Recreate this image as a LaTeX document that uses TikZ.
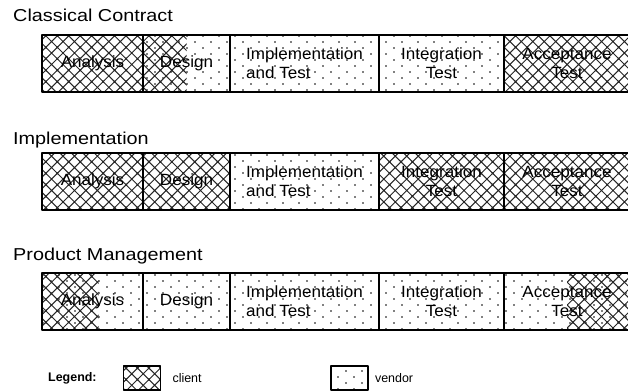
\documentclass[tikz,border=0pt]{standalone}
\usepackage{fontspec}
\setmainfont{Liberation Sans}
\newfontfamily\titlefont{Liberation Sans}[FakeStretch=1.15]
\newfontfamily\labelfont{Liberation Sans}[FakeStretch=1.05]
\usetikzlibrary{patterns,positioning,calc}

% 图案: 甲方 (交叉线) 与 乙方 (点)
\pgfdeclarepatternformonly{clientx}{\pgfqpoint{-1pt}{-1pt}}{\pgfqpoint{12.5pt}{12.5pt}}{\pgfqpoint{11.5pt}{11.5pt}}{
  \pgfsetlinewidth{1pt}
  \pgfpathmoveto{\pgfqpoint{-1pt}{-1pt}}\pgfpathlineto{\pgfqpoint{12.5pt}{12.5pt}}
  \pgfpathmoveto{\pgfqpoint{-1pt}{12.5pt}}\pgfpathlineto{\pgfqpoint{12.5pt}{-1pt}}
  \pgfusepath{stroke}}
\pgfdeclarepatternformonly{vendordots}{\pgfqpoint{0pt}{0pt}}{\pgfqpoint{16pt}{12pt}}{\pgfqpoint{16pt}{12pt}}{
  \pgfpathcircle{\pgfqpoint{4pt}{3pt}}{0.85pt}
  \pgfpathcircle{\pgfqpoint{12pt}{9pt}}{0.85pt}
  \pgfusepath{fill}}

\begin{document}
\begin{tikzpicture}[
    x=1bp, y=-1bp,
    line join=round,
    title/.style={anchor=west, inner sep=0pt, font=\titlefont\fontsize{17.3}{20}\selectfont},
    phase/.style={draw, line width=1.7bp, minimum height=57bp, inner sep=0pt, outer sep=0pt,
                  align=center, font=\labelfont\fontsize{16.3}{19}\selectfont},
    client/.style={phase, pattern=clientx, pattern color=black!85},
    vendor/.style={phase, pattern=vendordots},
    leftclient/.style={vendor, path picture={
        \fill[pattern=clientx, pattern color=black!85] (path picture bounding box.north west)
          rectangle ($(path picture bounding box.south west)!#1!(path picture bounding box.south east)$);}},
    rightclient/.style={vendor, path picture={
        \fill[pattern=clientx, pattern color=black!85] (path picture bounding box.north east)
          rectangle ($(path picture bounding box.south west)!#1!(path picture bounding box.south east)$);}},
    swatch/.style={draw, line width=1.7bp, minimum width=37bp, minimum height=24bp, inner sep=0pt},
    legendtext/.style={anchor=west, inner sep=0pt, font=\fontsize{12.5}{14}\selectfont}
]
    \useasboundingbox (0,0) rectangle (628,391);

    % 单元宽度
    \def\wana{101bp}
    \def\wdes{87bp}
    \def\wimp{149bp}
    \def\wint{125bp}
    \def\wacc{126bp}

    % 第一行
    \node[title] (ttl1) at (13,15) {Classical Contract};
    \node[client, minimum width=\wana, anchor=north west] (ana1) at (42,35) {Analysis};
    \node[leftclient=0.5, minimum width=\wdes, right=0pt of ana1] (des1) {Design};
    \node[vendor, minimum width=\wimp, right=0pt of des1, align=left] (imp1) {Implementation\\and Test};
    \node[vendor, minimum width=\wint, right=0pt of imp1] (int1) {Integration\\Test};
    \node[client, minimum width=\wacc, right=0pt of int1] (acc1) {Acceptance\\Test};

    % 第二行
    \node[title] (ttl2) at (13,140) {Implementation};
    \node[client, minimum width=\wana, anchor=north west] (ana2) at (42,153) {Analysis};
    \node[client, minimum width=\wdes, right=0pt of ana2] (des2) {Design};
    \node[vendor, minimum width=\wimp, right=0pt of des2, align=left] (imp2) {Implementation\\and Test};
    \node[client, minimum width=\wint, right=0pt of imp2] (int2) {Integration\\Test};
    \node[client, minimum width=\wacc, right=0pt of int2] (acc2) {Acceptance\\Test};

    % 第三行
    \node[title] (ttl3) at (13,256) {Product Management};
    \node[leftclient=0.56, minimum width=\wana, anchor=north west] (ana3) at (42,273) {Analysis};
    \node[vendor, minimum width=\wdes, right=0pt of ana3] (des3) {Design};
    \node[vendor, minimum width=\wimp, right=0pt of des3, align=left] (imp3) {Implementation\\and Test};
    \node[vendor, minimum width=\wint, right=0pt of imp3] (int3) {Integration\\Test};
    \node[rightclient=0.5, minimum width=\wacc, right=0pt of int3] (acc3) {Acceptance\\Test};

    % 图例
    \node[legendtext, font=\bfseries\fontsize{12.5}{14}\selectfont] (lgd) at (48,378) {Legend:};
    \node[swatch, pattern=clientx, pattern color=black!85] (swc) at (142,378) {};
    \node[legendtext, right=11bp of swc] (txc) {client};
    \node[swatch, pattern=vendordots] (swv) at (349.5,378) {};
    \node[legendtext, right=6bp of swv] (txv) {vendor};

\end{tikzpicture}
\end{document}
